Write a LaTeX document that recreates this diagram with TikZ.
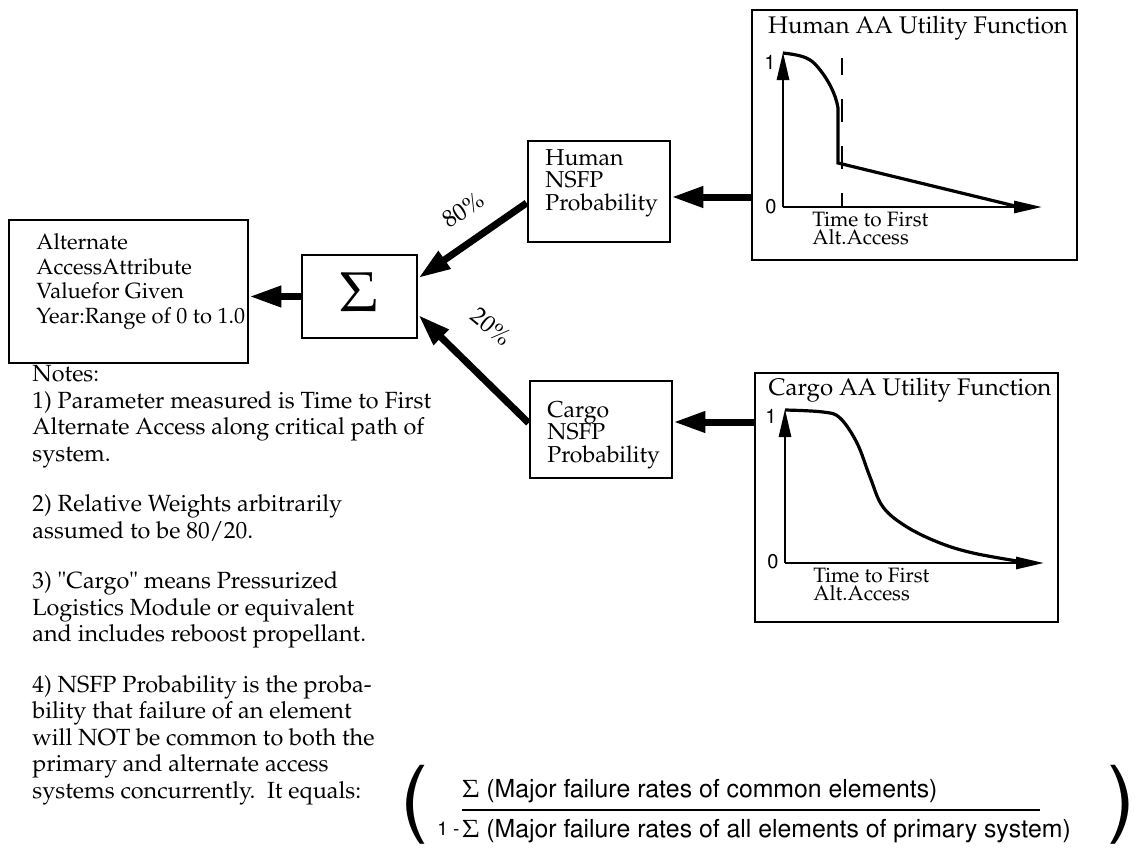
\documentclass[tikz,border=0pt]{standalone}
\usepackage[T1]{fontenc}
\usepackage{mathpazo}
\usetikzlibrary{arrows.meta,fit}
\newcommand{\helv}{\fontfamily{phv}\selectfont}

\begin{document}
\begin{tikzpicture}[x=0.5pt,y=-0.5pt,
    box/.style={draw,line width=1.4pt,inner sep=0pt},
    txt/.style={align=left,inner sep=0pt,anchor=base west,font=\fontsize{11}{12.25}\selectfont},
    nsfp/.style={txt,font=\fontsize{11.5}{11.25}\selectfont},
    title/.style={inner sep=0pt,anchor=base,font=\fontsize{12}{14}\selectfont},
    axtxt/.style={txt,font=\fontsize{10.4}{8.75}\selectfont},
    num/.style={inner sep=0pt,font=\fontsize{10}{12}\helv},
    ftxt/.style={inner sep=0pt,anchor=base west,font=\fontsize{12.4}{14}\helv},
    fat/.style={line width=3.5pt,-{Triangle[length=16pt,width=10pt]}},
    axis/.style={line width=1.4pt,-{Triangle[length=14pt,width=6pt]}},
    curve/.style={line width=1.6pt},
  ]
  \useasboundingbox (0,0) rectangle (1135,851);

  % left part (multi-line texts sit on their last baseline)
  \node[box,fit={(9,220) (248,363)}] (alt) {};
  \node[txt] (altText) at (36,323) {Alternate\\AccessAttribute\\Valuefor Given\\Year:Range of 0 to 1.0};
  \node[box,fit={(302,255) (417,338)}] (sigma) {};
  \node[font=\fontsize{28}{28}\selectfont] (sigmaSym) at (359,292) {$\Sigma$};

  % probability boxes
  \node[box,fit={(528,141) (670,242)}] (humanNSFP) {};
  \node[nsfp] (humanText) at (545,210) {Human\\NSFP\\Probability};
  \node[box,fit={(530,381) (672,478)}] (cargoNSFP) {};
  \node[nsfp] (cargoText) at (547,462) {Cargo\\NSFP\\Probability};

  % human utility function
  \node[box,fit={(752,10) (1077,260)}] (humanUF) {};
  \node[title] (humanTitle) at (918,33) {Human AA Utility Function};
  \draw[axis] (783,207) -- (783,52);
  \draw[axis] (783,207) -- (1042,207);
  \draw[curve] (783,53) .. controls (800,55) and (808,57) .. (815,64)
    .. controls (828,78) and (836,95) .. (838,108) -- (838,163) -- (1015,206);
  \draw[line width=1.4pt,dash pattern=on 11.5pt off 12pt,dash phase=4.5pt] (842,207) -- (842,58);
  \node[num] (h1) at (770,62) {1};
  \node[num] (h0) at (771,207) {0};
  \node[axtxt] (hTime) at (812,244) {Time to First\\Alt.Access};

  % cargo utility function
  \node[box,fit={(755,373) (1058,622)}] (cargoUF) {};
  \node[title] (cargoTitle) at (910,395) {Cargo AA Utility Function};
  \draw[axis] (785,563) -- (785,409);
  \draw[axis] (785,563) -- (1044,563);
  \draw[curve] plot[smooth,tension=0.6] coordinates {(785,410) (823,412) (840,418) (857,443)
    (870,477) (883,507) (907,527) (940,543) (973,553) (1017,561)};
  \node[num] (c1) at (771,416) {1};
  \node[num] (c0) at (773,562) {0};
  \node[axtxt] (cTime) at (813,600) {Time to First\\Alt.Access};

  % connections
  \coordinate (hIn) at ([yshift=-2.75pt]humanNSFP.east);
  \coordinate (cIn) at ([yshift=3.75pt]cargoNSFP.east);
  \draw[fat] (humanUF.west |- hIn) -- (hIn);
  \draw[fat] (cargoUF.west |- cIn) -- (cIn);
  \draw[fat] ([yshift=-5.75pt]humanNSFP.west) -- ([yshift=9.25pt]sigma.east);
  \draw[fat] ([yshift=3.25pt]cargoNSFP.west) -- ([yshift=-9.25pt]sigma.east);
  \draw[fat] (sigma.west) -- (sigma.west -| alt.east);
  \node[font=\fontsize{12}{14}\selectfont,rotate=33] (p80) at (463,210) {80\%};
  \node[font=\fontsize{12}{14}\selectfont,rotate=-40] (p20) at (491,327) {20\%};

  % notes
  \node[txt,font=\fontsize{11.7}{13.25}\selectfont] (notes) at (32,798) {Notes:\\
    1) Parameter measured is Time to First\\
    Alternate Access along critical path of\\
    system.\\[12pt]
    2) Relative Weights arbitrarily\\
    assumed to be 80/20.\\[12pt]
    3) \textquotedbl Cargo\textquotedbl{} means Pressurized\\
    Logistics Module or equivalent\\
    and includes reboost propellant.\\[12pt]
    4) NSFP Probability is the proba-\\
    bility that failure of an element\\
    will NOT be common to both the\\
    primary and alternate access\\
    systems concurrently.\ \ It equals:};

  % formula
  \node[font=\fontsize{42}{42}\helv] (lpar) at (414,804) {(};
  \node[font=\fontsize{42}{42}\helv] (rpar) at (1121,804) {)};
  \node[ftxt,font=\fontsize{9.5}{11}\helv] (one) at (437,835) {1 -};
  \node[ftxt] (numer) at (462,797) {$\Sigma$ (Major failure rates of common elements)};
  \node[ftxt] (denom) at (462,837) {$\Sigma$ (Major failure rates of all elements of primary system)};
  \draw[line width=1.1pt] (numer.south west |- 0,810) -- (1040,810);
\end{tikzpicture}
\end{document}
